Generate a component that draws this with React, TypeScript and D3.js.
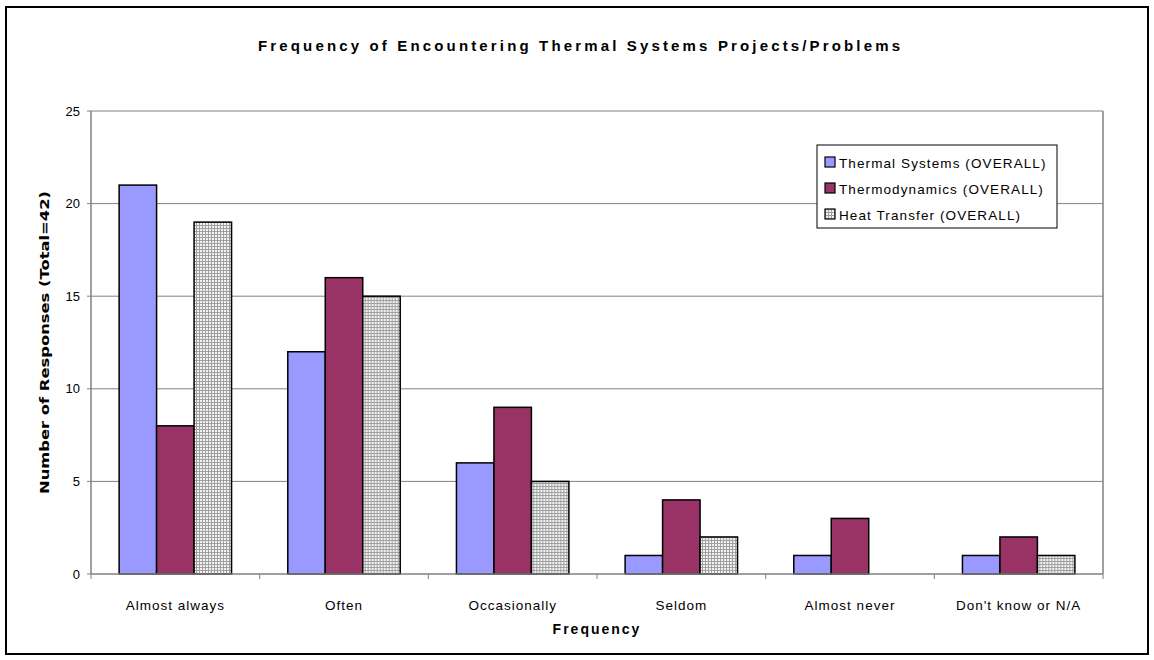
import * as d3 from "d3";

const categories = [
  "Almost always",
  "Often",
  "Occasionally",
  "Seldom",
  "Almost never",
  "Don't know or N/A",
];
const seriesNames = [
  "Thermal Systems (OVERALL)",
  "Thermodynamics (OVERALL)",
  "Heat Transfer (OVERALL)",
];
const thermalSystems = [21, 12, 6, 1, 1, 1];
const thermodynamics = [8, 16, 9, 4, 3, 2];
const heatTransfer = [19, 15, 5, 2, 0, 1];
const yTicks = [0, 5, 10, 15, 20, 25];

const seriesValues = [thermalSystems, thermodynamics, heatTransfer];
const fills = ["#9999ff", "#993366", "url(#grid)"];

const W = 1154;
const H = 660;
const margin = { top: 111, right: 51, bottom: 86, left: 91 };
const font = "'Liberation Sans', Arial, sans-serif";

function App() {
  const x0 = d3
    .scaleBand()
    .domain(categories)
    .range([margin.left, W - margin.right]);
  const bw = x0.bandwidth();
  // excel-style 50% gap: group takes 2/3 of each category band
  const x1 = d3
    .scaleBand()
    .domain(seriesNames)
    .range([bw / 6, (bw * 5) / 6]);
  const y = d3
    .scaleLinear()
    .domain([0, 25])
    .range([H - margin.bottom, margin.top]);

  const bottom = y(0);
  const left = margin.left;
  const right = W - margin.right;

  return (
    <svg
      width={W}
      height={H}
      style={{ position: "absolute", left: 0, top: 0, background: "#fff" }}
      fontFamily={font}
    >
      <defs>
        <pattern id="grid" width={3} height={3} patternUnits="userSpaceOnUse">
          <rect width={3} height={3} fill="#f2f2f2" />
          <path d="M0,0.5H3M0.5,0V3" stroke="#a0a0a0" strokeWidth={1} />
        </pattern>
      </defs>

      {/* outer frame */}
      <rect x={6} y={7} width={1142} height={647} fill="#fff" stroke="#000" strokeWidth={2} />

      {/* title */}
      <text
        x={579}
        y={51}
        textAnchor="middle"
        fontSize={15}
        fontWeight="bold"
        textLength={642}
        lengthAdjust="spacing"
      >
        Frequency of Encountering Thermal Systems Projects/Problems
      </text>

      {/* gridlines */}
      {yTicks.slice(1).map((t) => (
        <line key={t} x1={left} x2={right} y1={y(t)} y2={y(t)} stroke="#808080" strokeWidth={1} />
      ))}
      <line x1={right} x2={right} y1={y(25)} y2={bottom} stroke="#808080" strokeWidth={1.5} />

      {/* bars */}
      {categories.map((c, i) => (
        <g key={c} transform={`translate(${x0(c)},0)`}>
          {seriesNames.map((s, j) => {
            const v = seriesValues[j][i];
            if (!v) return null;
            return (
              <rect
                key={s}
                x={x1(s)}
                y={y(v)}
                width={x1.bandwidth()}
                height={bottom - y(v)}
                fill={fills[j]}
                stroke="#000"
                strokeWidth={1.5}
              />
            );
          })}
        </g>
      ))}

      {/* y axis */}
      <line x1={left} x2={left} y1={y(25)} y2={bottom} stroke="#808080" strokeWidth={1.5} />
      {yTicks.map((t) => (
        <g key={t}>
          <line x1={left - 4} x2={left} y1={y(t)} y2={y(t)} stroke="#808080" />
          <text x={80} y={y(t) + 4.5} textAnchor="end" fontSize={13}>
            {t}
          </text>
        </g>
      ))}

      {/* x axis */}
      <line x1={left} x2={right} y1={bottom} y2={bottom} stroke="#808080" strokeWidth={1.5} />
      {[...categories.map((c) => x0(c)), right].map((xv, i) => (
        <line key={i} x1={xv} x2={xv} y1={bottom} y2={bottom + 5} stroke="#808080" />
      ))}
      {categories.map((c) => (
        <text
          key={c}
          x={x0(c) + bw / 2}
          y={610}
          textAnchor="middle"
          fontSize={13.5}
          letterSpacing={1}
        >
          {c}
        </text>
      ))}

      {/* axis titles */}
      <text x={597} y={634} textAnchor="middle" fontSize={14} fontWeight="bold" letterSpacing={2}>
        Frequency
      </text>
      <text
        transform={`translate(49,${(y(25) + bottom) / 2}) rotate(-90)`}
        textAnchor="middle"
        fontSize={13}
        fontWeight="900"
        fontFamily="'DejaVu Sans', sans-serif"
        textLength={303}
        lengthAdjust="spacingAndGlyphs"
      >
        Number of Responses (Total=42)
      </text>

      {/* legend */}
      <rect x={817} y={145} width={240} height={83} fill="#fff" stroke="#000" strokeWidth={1} />
      {seriesNames.map((s, j) => (
        <g key={s} transform={`translate(825,${157 + j * 26})`}>
          <rect width={10} height={10} fill={fills[j]} stroke="#000" strokeWidth={1.2} />
          <text x={14} y={10.5} fontSize={13.5} letterSpacing={1.1}>
            {s}
          </text>
        </g>
      ))}
    </svg>
  );
}

export default App;
